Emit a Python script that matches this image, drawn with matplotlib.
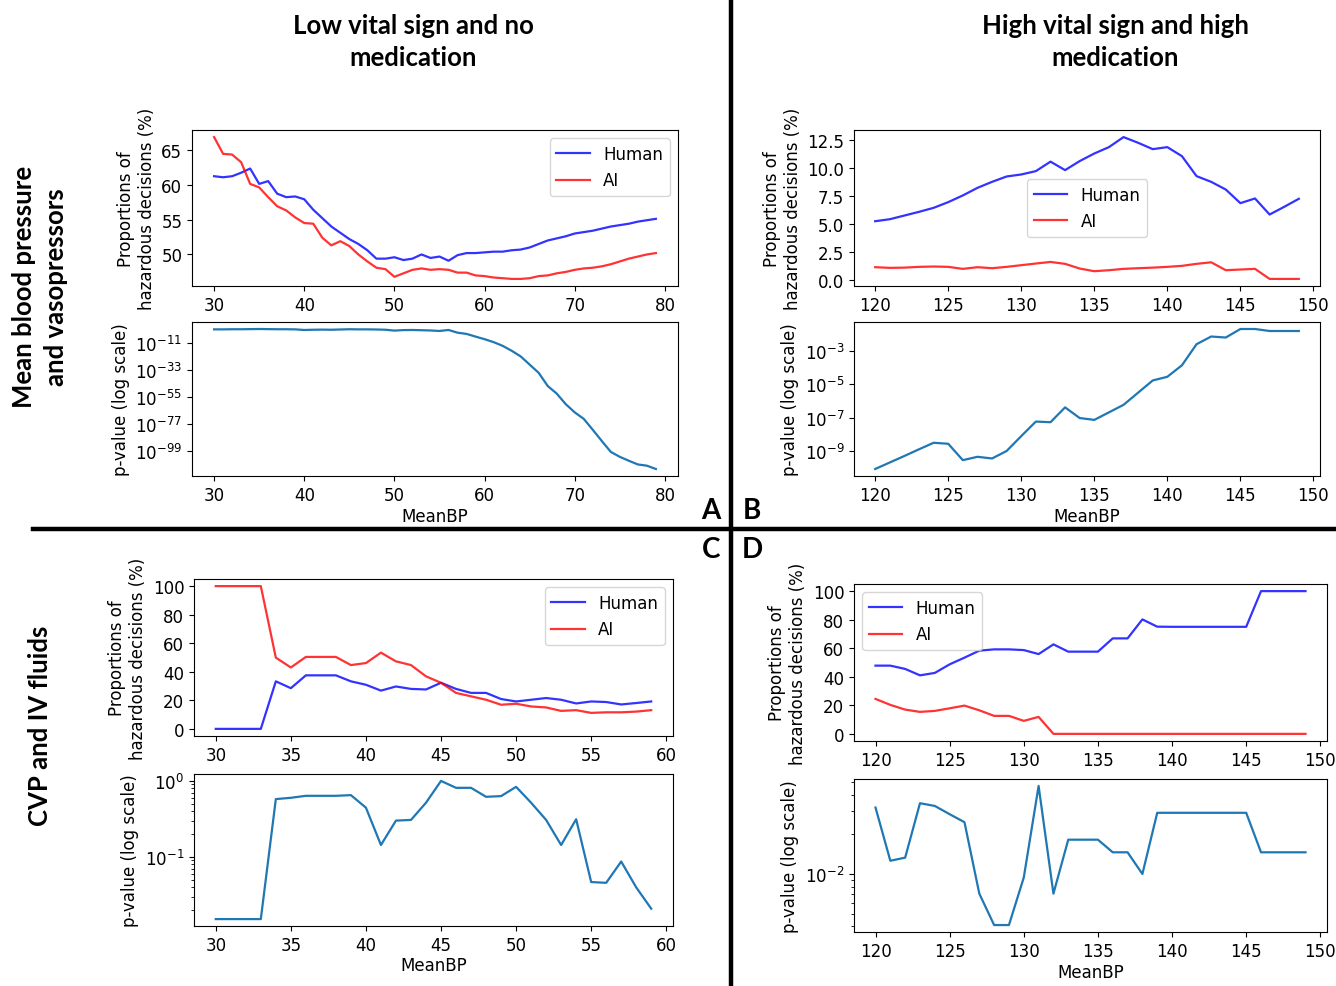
import numpy as np
import matplotlib
matplotlib.use("Agg")
import matplotlib.pyplot as plt
from matplotlib.ticker import NullLocator, LogFormatterSciNotation

# panel A: low vital sign, no medication (mean BP / vasopressors)
a_x = list(range(30, 80))
a_human = [61.2, 61.05, 61.2, 61.7, 62.3, 60.1, 60.5, 58.7, 58.2, 58.3,
           57.9, 56.4, 55.2, 54.0, 53.1, 52.2, 51.5, 50.6, 49.4, 49.4,
           49.6, 49.2, 49.4, 50.0, 49.5, 49.7, 49.1, 49.9, 50.2, 50.2,
           50.3, 50.4, 50.4, 50.6, 50.7, 51.0, 51.5, 52.0, 52.3, 52.6,
           53.0, 53.2, 53.4, 53.7, 54.0, 54.2, 54.4, 54.7, 54.9, 55.1]
a_ai = [66.8, 64.4, 64.3, 63.2, 60.1, 59.6, 58.2, 56.9, 56.3, 55.3,
        54.5, 54.4, 52.4, 51.3, 51.9, 51.2, 50.0, 49.0, 48.1, 47.9,
        46.8, 47.3, 47.8, 48.0, 47.8, 47.9, 47.8, 47.4, 47.4, 47.0,
        46.9, 46.7, 46.6, 46.5, 46.5, 46.6, 46.9, 47.0, 47.3, 47.5,
        47.8, 48.0, 48.1, 48.3, 48.6, 49.0, 49.4, 49.7, 50.0, 50.2]
# p-values given as log10 exponents
a_logp = [-0.3, -0.3, -0.2, -0.2, -0.1, 0.0, -0.1, -0.2, -0.2, -0.3,
          -0.8, -0.6, -0.5, -0.6, -0.4, -0.2, -0.3, -0.3, -0.4, -0.6,
          -1.3, -0.9, -0.8, -1.0, -1.2, -1.6, -0.8, -3.0, -4.0, -6.2,
          -8.3, -10.7, -13.7, -17.7, -22.3, -29.0, -35.7, -46.4, -52.6, -61.2,
          -67.9, -73.2, -82.1, -91.2, -100.1, -104.1, -107.3, -110.3, -111.3, -114.0]

# panel B: high vital sign, high medication
b_x = list(range(120, 150))
b_human = [5.26, 5.44, 5.77, 6.1, 6.46, 6.97, 7.57, 8.25, 8.79, 9.27,
           9.45, 9.75, 10.6, 9.84, 10.65, 11.33, 11.9, 12.8, 12.29, 11.72,
           11.9, 11.09, 9.3, 8.79, 8.1, 6.88, 7.3, 5.86, 6.55, 7.27]
b_ai = [1.14, 1.08, 1.1, 1.17, 1.2, 1.17, 0.99, 1.14, 1.05, 1.17,
        1.32, 1.47, 1.61, 1.44, 1.02, 0.78, 0.87, 0.99, 1.05, 1.1,
        1.17, 1.26, 1.44, 1.58, 0.87, 0.93, 0.99, 0.09, 0.09, 0.09]
b_logp = [-10.08, -9.69, -9.3, -8.9, -8.51, -8.57, -9.55, -9.35, -9.45, -9.0,
          -8.11, -7.24, -7.28, -6.39, -7.03, -7.14, -6.69, -6.24, -5.51, -4.78,
          -4.56, -3.87, -2.61, -2.15, -2.21, -1.7, -1.7, -1.82, -1.82, -1.82]

# panel C: CVP / IV fluids, low
c_x = list(range(30, 60))
c_human = [0, 0, 0, 0, 33.3, 28.5, 37.5, 37.5, 37.5, 33.3,
           30.9, 26.8, 29.7, 28.0, 27.6, 32.3, 28.0, 25.2, 25.2, 20.9,
           19.2, 20.4, 21.6, 20.4, 17.8, 19.2, 18.8, 17.1, 18.1, 19.2]
c_ai = [100, 100, 100, 100, 49.9, 43.0, 50.4, 50.4, 50.4, 44.7,
        46.1, 53.4, 47.3, 44.7, 36.8, 32.3, 25.2, 22.8, 20.4, 16.9,
        17.6, 15.7, 15.0, 12.6, 13.1, 11.2, 11.6, 11.6, 12.1, 13.1]
c_logp = [-1.817, -1.817, -1.817, -1.817, -0.239, -0.222, -0.196, -0.196, -0.196, -0.187,
          -0.352, -0.843, -0.522, -0.513, -0.287, 0.0, -0.091, -0.091, -0.209, -0.2,
          -0.078, -0.287, -0.513, -0.843, -0.504, -1.33, -1.34, -1.06, -1.40, -1.68]

# panel D: CVP / IV fluids, high
d_x = list(range(120, 150))
d_human = [47.8, 47.8, 45.5, 41.0, 42.7, 48.7, 53.4, 58.3, 59.2, 59.2,
           58.7, 55.9, 62.7, 57.6, 57.6, 57.6, 66.9, 66.9, 80.2, 75.1,
           75, 75, 75, 75, 75, 75, 100, 100, 100, 100]
d_ai = [24.5, 20.3, 17.0, 15.4, 16.1, 17.9, 19.8, 16.5, 12.6, 12.6,
        9.1, 11.9, 0, 0, 0, 0, 0, 0, 0, 0,
        0, 0, 0, 0, 0, 0, 0, 0, 0, 0]
d_p = [0.0319, 0.0126, 0.0133, 0.0344, 0.0328, 0.0284, 0.0247, 0.0071, 0.0041, 0.0041,
       0.0094, 0.0465, 0.0071, 0.0182, 0.0182, 0.0182, 0.0146, 0.0146, 0.0100, 0.0291,
       0.0291, 0.0291, 0.0291, 0.0291, 0.0291, 0.0291, 0.0146, 0.0146, 0.0146, 0.0146]

W, H = 1336.0, 987.0
plt.rcParams['font.size'] = 12
fig = plt.figure(figsize=(W / 100, H / 100), dpi=100)


def box(left, top, right, bottom):
    return [left / W, 1 - bottom / H, (right - left) / W, (bottom - top) / H]


def prop_panel(rect, x, human, ai, loc, yticks):
    ax = fig.add_axes(box(*rect))
    ax.plot(x, human, color='blue', alpha=0.8, lw=1.6, label='Human')
    ax.plot(x, ai, color='red', alpha=0.8, lw=1.6, label='AI')
    ax.set_yticks(yticks)
    ax.set_ylabel('Proportions of\nhazardous decisions (%)', fontsize=12)
    ax.legend(loc=loc, fontsize=12)
    return ax


def p_panel(rect, x, p, yticks=None):
    ax = fig.add_axes(box(*rect))
    ax.plot(x, p, color='#1f77b4', lw=1.6)
    ax.set_yscale('log')
    if yticks is not None:
        ax.set_yticks(yticks)
        ax.yaxis.set_major_formatter(LogFormatterSciNotation())
        ax.yaxis.set_minor_locator(NullLocator())
    ax.set_ylabel('p-value (log scale)', fontsize=12)
    ax.set_xlabel('MeanBP', fontsize=12, labelpad=2)
    return ax


ticks_lo = [30, 40, 50, 60, 70, 80]
ticks_c = [30, 35, 40, 45, 50, 55, 60]
ticks_hi = [120, 125, 130, 135, 140, 145, 150]
pct_ticks = [0, 20, 40, 60, 80, 100]

axA = prop_panel((192, 131, 678, 287), a_x, a_human, a_ai, 'upper right', [50, 55, 60, 65])
axA.set_xticks(ticks_lo)
axA2 = p_panel((192, 323, 678, 477), a_x, 10.0 ** np.array(a_logp),
               [1e-11, 1e-33, 1e-55, 1e-77, 1e-99])
axA2.set_xticks(ticks_lo)

axB = prop_panel((854, 131, 1320, 287), b_x, b_human, b_ai, 'center',
                 [0.0, 2.5, 5.0, 7.5, 10.0, 12.5])
axB.set_xticks(ticks_hi)
axB2 = p_panel((854, 323, 1320, 477), b_x, 10.0 ** np.array(b_logp),
               [1e-3, 1e-5, 1e-7, 1e-9])
axB2.set_xticks(ticks_hi)

axC = prop_panel((194, 580, 673, 737), c_x, c_human, c_ai, 'upper right', pct_ticks)
axC.set_xticks(ticks_c)
axC2 = p_panel((194, 775, 673, 927), c_x, 10.0 ** np.array(c_logp))
axC2.set_xticks(ticks_c)

axD = prop_panel((854, 585, 1327, 742), d_x, d_human, d_ai, 'upper left', pct_ticks)
axD.set_xticks(ticks_hi)
axD2 = p_panel((854, 780, 1327, 933), d_x, d_p)
axD2.set_xticks(ticks_hi)

# headers, row labels, letters
bold = dict(family=['Lato', 'DejaVu Sans'], fontweight='bold', fontsize=18.5,
            ha='center', va='center', linespacing=1.4)
fig.text(413 / W, 1 - 42 / H, 'Low vital sign and no\nmedication', **bold)
fig.text(1115 / W, 1 - 42 / H, 'High vital sign and high\nmedication', **bold)
fig.text(40 / W, 1 - 287 / H, 'Mean blood pressure\nand vasopressors', rotation=90, **bold)
fig.text(40 / W, 1 - 726 / H, 'CVP and IV fluids', rotation=90, **bold)

letters = dict(family=['Lato', 'DejaVu Sans'], fontweight='bold', fontsize=20,
               ha='center', va='center')
fig.text(711 / W, 1 - 511 / H, 'A', **letters)
fig.text(752 / W, 1 - 511 / H, 'B', **letters)
fig.text(711 / W, 1 - 550 / H, 'C', **letters)
fig.text(752 / W, 1 - 550 / H, 'D', **letters)

fig.add_artist(plt.Line2D([731 / W, 731 / W], [0, 1], color='black', lw=3.2))
fig.add_artist(plt.Line2D([33 / W, 1], [1 - 530 / H, 1 - 530 / H], color='black', lw=3.2))

fig.savefig('out.png', dpi=100)
